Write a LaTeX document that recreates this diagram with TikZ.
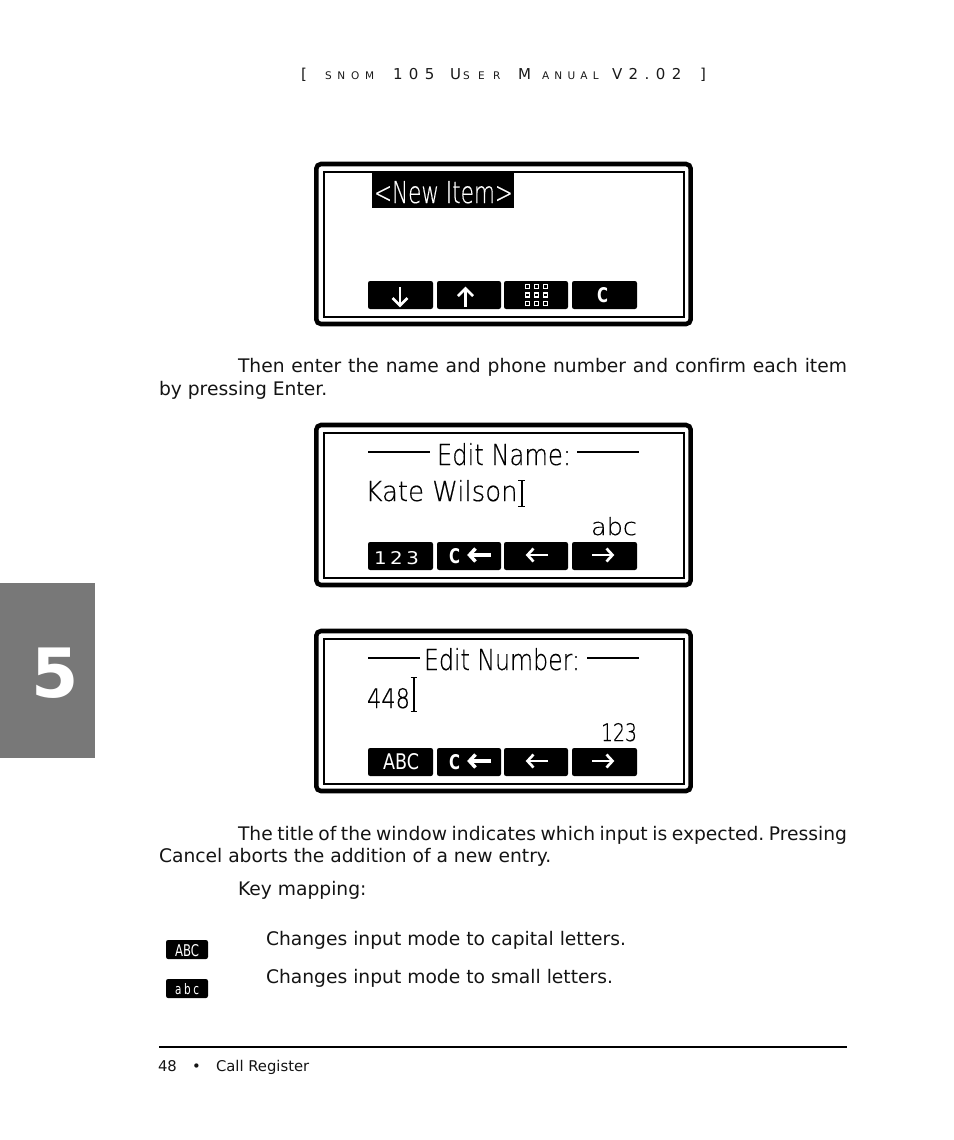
\documentclass[tikz,border=0pt]{standalone}
\usepackage{fontspec}
\setmainfont{DejaVu Sans}
\newfontfamily\lcdfont{DejaVu Sans ExtraLight}[UprightFeatures={FakeBold=0.4}]
\newdimen\pxu \pxu=0.75pt
\newcommand{\pxfont}[1]{\fontsize{#1\pxu}{#1\pxu}\selectfont}
\newcommand{\bodyfont}{\pxfont{18.7}}
\newcommand{\lcd}[3]{\resizebox{#1\pxu}{#2\pxu}{\lcdfont\pxfont{30}#3}}
\newcommand{\keyfit}[3]{\resizebox{#1\pxu}{#2\pxu}{\pxfont{20}#3}}
\newcommand{\sptext}[2]{\bodyfont\frenchspacing\hbox to #1\pxu{\spaceskip=0.318em plus 1fil minus 0.2em\relax #2}}
\tikzset{
  x=0.75pt,y=-0.75pt,
  txt/.style={anchor=base west,inner sep=0pt,outer sep=0pt,text=black!92},
  hdr/.style={txt,text=black!90},
  lcdtxt/.style={anchor=base west,inner sep=0pt,outer sep=0pt,text=black},
  lcdrev/.style={lcdtxt,text=white},
  keytxt/.style={anchor=base west,inner sep=0pt,outer sep=0pt,text=white},
  softkey/.style={fill=black,rounded corners=1.6pt},
  wline/.style={draw=white,line width=2pt},
  wthick/.style={draw=white,line width=2.6pt},
  outerframe/.style={draw=black,line width=3.4pt,rounded corners=3.5pt},
  innerframe/.style={draw=black,line width=1.5pt},
  rulex/.style={draw=black,line width=1.1pt},
  cursorx/.style={draw=black,line width=1.3pt},
}
\newcommand{\screen}[1]{%
  \begin{scope}[shift={(0,#1)}]
    \draw[outerframe] (316.3,164) rectangle (690.7,324);
    \draw[innerframe] (324,172) rectangle (684,316.5);
    \fill[softkey] (368,281) rectangle (433,309);
    \fill[softkey] (437,281) rectangle (501,309);
    \fill[softkey] (504,281) rectangle (568,309);
    \fill[softkey] (572,281) rectangle (637,309);
  \end{scope}}
\newcommand{\leftarr}[4]{% x1 x2 y style
  \draw[#4] (#2,#3) -- (#1,#3);
  \draw[#4] (#1+6.5,#3-6.5) -- (#1+0.5,#3) -- (#1+6.5,#3+6.5);}
\newcommand{\rightarr}[4]{%
  \draw[#4] (#1,#3) -- (#2,#3);
  \draw[#4] (#2-6.5,#3-6.5) -- (#2-0.5,#3) -- (#2-6.5,#3+6.5);}
\newcommand{\editkeys}[1]{%
  \begin{scope}[shift={(0,#1)}]
    \leftarr{469}{491}{555}{wthick}
    \leftarr{527}{548}{555}{wline}
    \rightarr{592}{613}{555}{wline}
  \end{scope}}
\begin{document}
\begin{tikzpicture}
\useasboundingbox (0,0) rectangle (954,1140);
% side tab
\fill[black!53] (0,583) rectangle (95,758);
\node[anchor=base,inner sep=0pt,text=white,font=\bfseries\pxfont{68}] (chapter) at (55,697) {5};
% header
\node[hdr,font=\pxfont{15}] (h1) at (301,79) {[};
\node[hdr,font=\addfontfeature{LetterSpace=55}\pxfont{10.5}] (h2) at (325,79) {SNOM};
\node[hdr,font=\addfontfeature{LetterSpace=43}\pxfont{15}] (h3) at (393,79) {105};
\node[hdr,font=\pxfont{15}] (h4) at (450,79) {U};
\node[hdr,font=\addfontfeature{LetterSpace=80}\pxfont{10.5}] (h5) at (463,79) {SER};
\node[hdr,font=\pxfont{15}] (h6) at (518,79) {M};
\node[hdr,font=\addfontfeature{LetterSpace=50}\pxfont{10.5}] (h7) at (542,79) {ANUAL};
\node[hdr,font=\addfontfeature{LetterSpace=43}\pxfont{15}] (h8) at (612,79) {V2.02};
\node[hdr,font=\pxfont{15}] (h9) at (700,79) {]};
% screens
\screen{0}\screen{261}\screen{467}
% screen 1
\fill[black] (372,173) rectangle (514,208);
\node[lcdrev] (newitem) at (374,203) {\lcd{139}{22}{<New Item>}};
\draw[draw=white,line width=2pt] (400,287) -- (400,305);
\draw[draw=white,line width=2pt] (392.5,298) -- (400,305.5) -- (407.5,298);
\draw[draw=white,line width=2pt] (465.5,307) -- (465.5,289);
\draw[draw=white,line width=2pt] (458,296) -- (465.5,288.5) -- (473,296);
\foreach \cx in {527.7,536.5,545.3}\foreach \cy in {286.7,295,303.3}
  \draw[draw=white,line width=1pt] (\cx-2,\cy-2) rectangle (\cx+2,\cy+2);
\node[keytxt] (k1c) at (597,302) {\keyfit{11}{15}{\bfseries C}};
% screen 2
\coordinate (l1a) at (368,452); \coordinate (l1b) at (430,452);
\coordinate (l2a) at (577,452); \coordinate (l2b) at (639,452);
\draw[rulex] (l1a) -- (l1b); \draw[rulex] (l2a) -- (l2b);
\node[lcdtxt] (editname) at (437,465) {\lcd{134}{22}{Edit Name:}};
\node[lcdtxt] (kate) at (365.5,501) {\lcd{152}{21}{Kate Wilson}};
\draw[cursorx] (521.7,481) -- (521.7,506) (518.3,480.5) -- (525,480.5) (518.3,506.5) -- (525,506.5);
\node[lcdtxt] (abc) at (591,535) {\lcd{46}{18}{abc}};
\node[keytxt] (k123) at (374,564.5) {\resizebox{45\pxu}{13\pxu}{\pxfont{20}\addfontfeature{LetterSpace=18}123}};
\node[keytxt] (k2c) at (449,563) {\keyfit{11}{15}{\bfseries C}};
\editkeys{0}
% screen 3
\coordinate (l3a) at (368,658); \coordinate (l3b) at (420,658);
\coordinate (l4a) at (587,658); \coordinate (l4b) at (639,658);
\draw[rulex] (l3a) -- (l3b); \draw[rulex] (l4a) -- (l4b);
\node[lcdtxt] (editnum) at (424,670) {\lcd{156}{22}{Edit Number:}};
\node[lcdtxt] (n448) at (367,708) {\lcd{43}{20}{448}};
\draw[cursorx] (414,678) -- (414,711) (410.7,677.5) -- (417,677.5) (410.7,711.5) -- (417,711.5);
\node[lcdtxt] (n123) at (601,741) {\lcd{36}{18}{123}};
\node[keytxt] (kabc) at (383,769) {\keyfit{36}{16}{ABC}};
\node[keytxt] (k3c) at (449,769) {\keyfit{11}{15}{\bfseries C}};
\editkeys{206}
% body text
\node[txt] (p1a) at (238,372) {\sptext{609}{Then enter the name and phone number and confirm each item}};
\node[txt,font=\bodyfont] (p1b) at (159,395) {by pressing Enter.};
\node[txt] (p2a) at (238,840) {\sptext{609}{The title of the window indicates which input is expected. Pressing}};
\node[txt,font=\bodyfont] (p2b) at (159,862) {Cancel aborts the addition of a new entry.};
\node[txt,font=\bodyfont] (p3) at (238,895) {Key mapping:};
\node[txt,font=\bodyfont] (p4) at (266,945) {Changes input mode to capital letters.};
\node[txt,font=\bodyfont] (p5) at (266,983) {Changes input mode to small letters.};
% small keys
\fill[softkey] (166,940) rectangle (208,959);
\fill[softkey] (166,979) rectangle (208,998);
\node[keytxt] (ska) at (175,956) {\keyfit{24}{12}{ABC}};
\node[keytxt] (skb) at (175,994) {\resizebox{24\pxu}{11\pxu}{\pxfont{20}\addfontfeature{LetterSpace=25}abc}};
% footer
\coordinate (fa) at (159,1047); \coordinate (fb) at (847,1047);
\draw[draw=black,line width=1.5pt] (fa) -- (fb);
\node[txt,font=\pxfont{14.8}] (f1) at (158,1071) {48};
\node[txt,font=\pxfont{14.8}] (f2) at (192,1071) {•};
\node[txt,font=\pxfont{14.8}] (f3) at (216,1071) {Call Register};
\end{tikzpicture}
\end{document}
